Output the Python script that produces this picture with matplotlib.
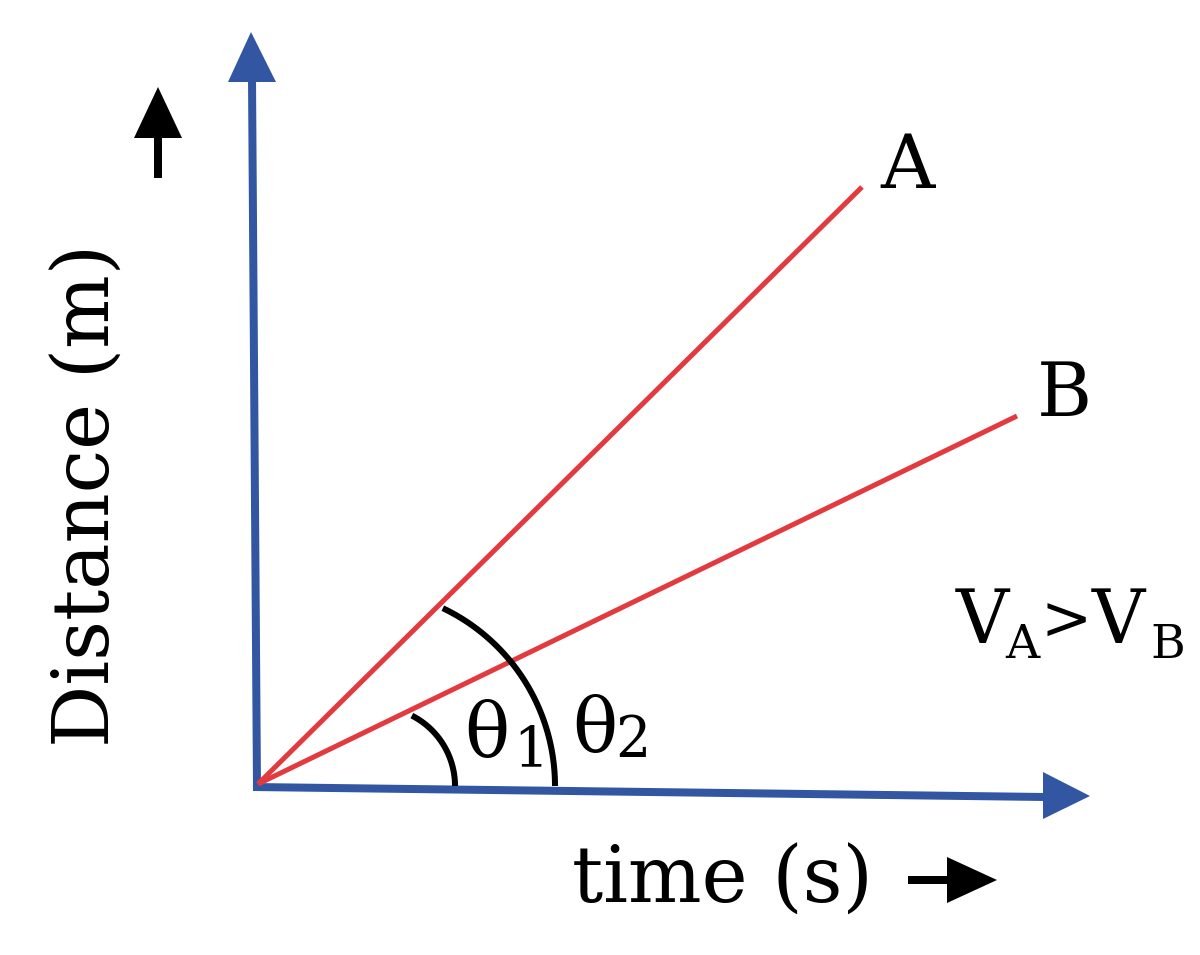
import numpy as np
import matplotlib
matplotlib.use("Agg")
import matplotlib.pyplot as plt
from matplotlib.patches import Polygon

# ---- data (pixel-space schematic) ----
line_names = ["A", "B"]
origin = (258, 784)
end_x = [862, 1017]
end_y = [187, 416]

# angle arcs: centre x, radius, start angle (deg)
arc_cx = [376, 358]
arc_r = [79, 197]
arc_a0 = [63, 64.5]

BLUE = "#3256A2"
RED = "#E33A3F"
FONT = ["DejaVu Serif"]

W, H = 1200, 955
fig = plt.figure(figsize=(W / 100, H / 100), dpi=100)
ax = fig.add_axes([0, 0, 1, 1])
ax.set_xlim(0, W)
ax.set_ylim(H, 0)
ax.axis("off")

px = 0.72  # points per pixel at dpi 100

# axes (blue)
ax.plot([257, 252], [788, 78], color=BLUE, lw=8 * px, solid_capstyle="butt")
ax.add_patch(Polygon([[228, 82], [276, 82], [251, 32]], closed=True, color=BLUE, lw=0))
ax.plot([253, 1045], [787, 797], color=BLUE, lw=8 * px, solid_capstyle="butt")
ax.add_patch(Polygon([[1043, 772], [1043, 819], [1090, 796]], closed=True, color=BLUE, lw=0))

# red lines
for ex, ey in zip(end_x, end_y):
    ax.plot([origin[0], ex], [origin[1], ey], color=RED, lw=5 * px, solid_capstyle="butt")

# arcs
for cx, r, a0 in zip(arc_cx, arc_r, arc_a0):
    t = np.radians(np.linspace(a0, 0, 100))
    ax.plot(cx + r * np.cos(t), 786 - r * np.sin(t), color="black", lw=6 * px,
            solid_capstyle="butt")

def txt(x, y, s, size, ha="center", **kw):
    ax.text(x, y, s, fontsize=size, family=FONT, ha=ha, va="baseline", **kw)

# line labels
txt(880, 188, line_names[0], 54, ha="left")
txt(1037, 416, line_names[1], 54, ha="left")

# V_A > V_B
txt(982, 643, "V", 53)
txt(1022, 658, "A", 34)
txt(1066, 640, ">", 44)
txt(1118, 643, "V", 53)
txt(1168, 658, "B", 34)

# theta labels
txt(487, 756, "θ", 54)
txt(531, 766, "1", 40)
txt(595, 751, "θ", 54)
txt(633, 756, "2", 40)

ax.text(110, 495, "Distance (m)", fontsize=56, family=FONT, rotation=90,
        ha="center", va="baseline", rotation_mode="anchor")
txt(572, 903, "time (s)", 56, ha="left")

# black direction arrows
ax.plot([158, 158], [136, 178], color="black", lw=8 * px, solid_capstyle="butt")
ax.add_patch(Polygon([[134, 138], [182, 138], [158, 87]], closed=True, color="black", lw=0))
ax.plot([908, 950], [880, 880], color="black", lw=8 * px, solid_capstyle="butt")
ax.add_patch(Polygon([[947, 857], [947, 903], [997, 880]], closed=True, color="black", lw=0))

fig.savefig("out.png", dpi=100, facecolor="white")
